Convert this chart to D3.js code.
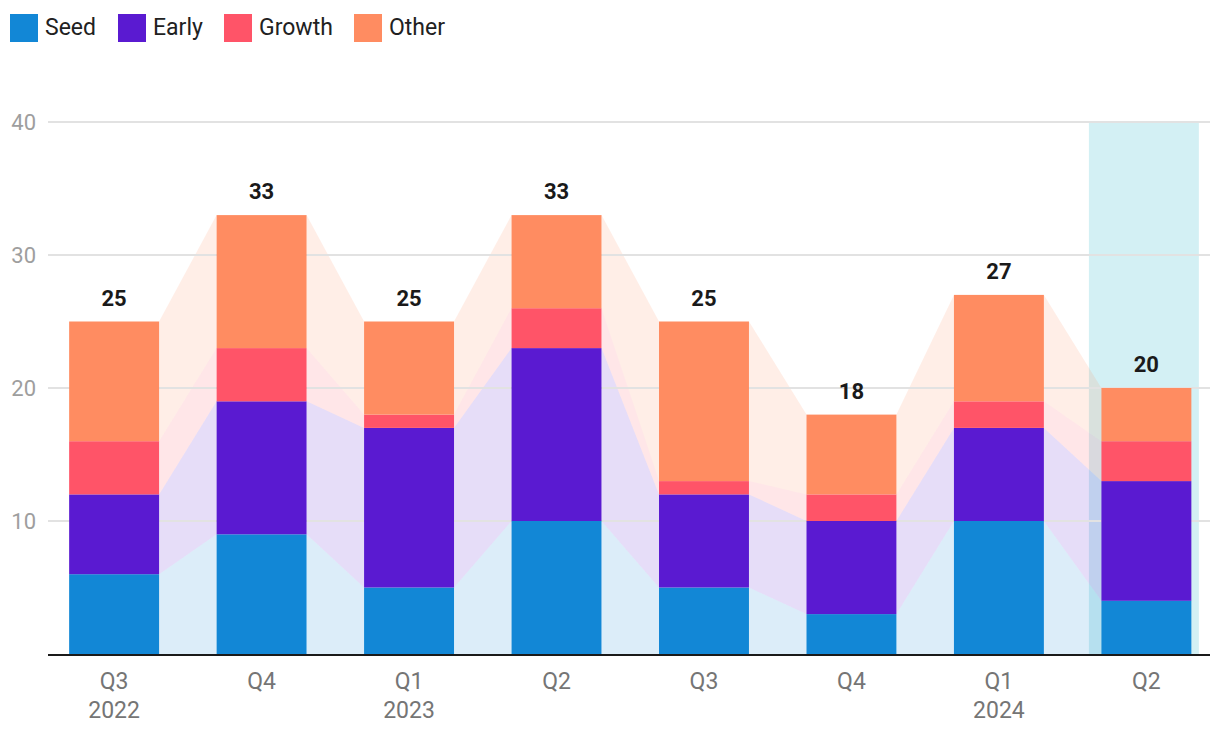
<!DOCTYPE html>
<html><head><meta charset="utf-8">
<script src="https://cdn.jsdelivr.net/npm/d3@7/dist/d3.min.js"></script>
<style>body{margin:0;background:#fff;font-family:Roboto,sans-serif}</style>
</head><body><svg id="c" width="1220" height="742"></svg>
<script>
const quarters = ["Q3","Q4","Q1","Q2","Q3","Q4","Q1","Q2"];
const years = ["2022","","2023","","","","2024",""];
const seriesNames = ["Seed","Early","Growth","Other"];
const seed = [6,9,5,10,5,3,10,4];
const early = [6,10,12,13,7,7,7,9];
const growth = [4,4,1,3,1,2,2,3];
const other = [9,10,7,7,12,6,8,4];
const colors = ["#1287d6","#5a1ad1","#ff5468","#ff8c61"];
const yTicks = [10,20,30,40];
const highlightIndex = 7;

const svg = d3.select("#c");
const rows = quarters.map((q,i)=>({i, Seed:seed[i], Early:early[i], Growth:growth[i], Other:other[i]}));
const stack = d3.stack().keys(seriesNames)(rows);
const x = d3.scaleBand().domain(d3.range(quarters.length)).range([48.5,1212]).paddingInner(0.39).paddingOuter(0.14);
const y = d3.scaleLinear().domain([0,40]).range([654,122]);
const bw = x.bandwidth();

// highlight
svg.append("rect").attr("x", x(highlightIndex)-12.5).attr("width", bw+20)
  .attr("y", y(40)).attr("height", y(0)-y(40)).attr("fill","#d3f0f4");

// ribbons
stack.forEach((s,k)=>{
  for(let i=0;i<s.length-1;i++){
    const a=s[i], b=s[i+1];
    const x0=x(i)+bw, x1=x(i+1);
    const pts=[[x0,y(a[1])],[x1,y(b[1])],[x1,y(b[0])],[x0,y(a[0])]];
    svg.append("path").attr("d","M"+pts.join("L")+"Z").attr("fill",colors[k]).attr("fill-opacity",0.15);
  }
});

// gridlines
svg.append("g").selectAll("line").data(yTicks).join("line")
  .attr("x1",48).attr("x2",1210).attr("y1",d=>y(d)).attr("y2",d=>y(d))
  .attr("stroke","#e2e2e2").attr("stroke-width",2);
svg.append("g").selectAll("text").data(yTicks).join("text")
  .attr("x",36).attr("y",d=>y(d)+8).attr("text-anchor","end")
  .attr("font-size",22).attr("fill","#9e9e9e").text(d=>d);

// bars
stack.forEach((s,k)=>{
  svg.append("g").selectAll("rect").data(s).join("rect")
    .attr("x",(d,i)=>x(i)).attr("width",bw)
    .attr("y",d=>y(d[1])).attr("height",d=>y(d[0])-y(d[1]))
    .attr("fill",colors[k]);
});

// totals
const totals = rows.map(r=>r.Seed+r.Early+r.Growth+r.Other);
svg.append("g").selectAll("text").data(totals).join("text")
  .attr("x",(d,i)=>x(i)+bw/2).attr("y",d=>y(d)-16).attr("text-anchor","middle")
  .attr("font-size",22).attr("font-weight","bold").attr("fill","#1a1a1a").text(d=>d);

// x axis
svg.append("line").attr("x1",48).attr("x2",1210).attr("y1",y(0)+1).attr("y2",y(0)+1)
  .attr("stroke","#1a1a1a").attr("stroke-width",2);
const xl = svg.append("g");
quarters.forEach((q,i)=>{
  xl.append("text").attr("x",x(i)+bw/2).attr("y",689).attr("text-anchor","middle")
    .attr("font-size",23).attr("fill","#757575").text(q);
  if(years[i]) xl.append("text").attr("x",x(i)+bw/2).attr("y",718).attr("text-anchor","middle")
    .attr("font-size",23).attr("fill","#757575").text(years[i]);
});

// legend
const legX=[10,118,224,354];
seriesNames.forEach((n,k)=>{
  svg.append("rect").attr("x",legX[k]).attr("y",14).attr("width",28).attr("height",28).attr("fill",colors[k]);
  svg.append("text").attr("x",legX[k]+35).attr("y",35).attr("font-size",23).attr("fill","#212121").text(n);
});
</script></body></html>
